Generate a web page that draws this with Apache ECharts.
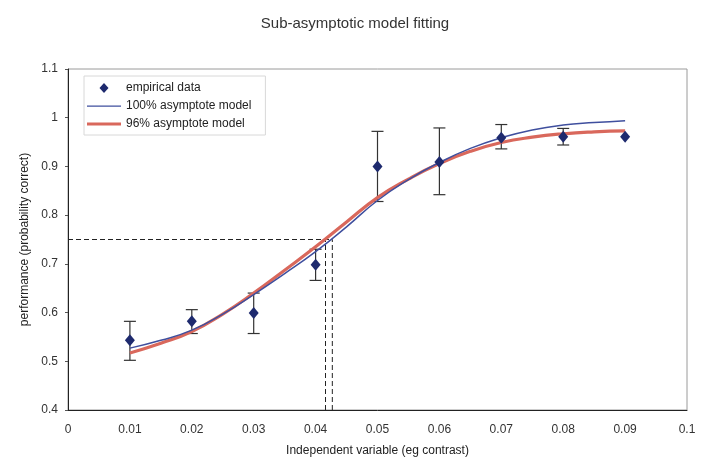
<!DOCTYPE html>
<html>
<head>
<meta charset="utf-8">
<script src="https://cdn.jsdelivr.net/npm/echarts@6/dist/echarts.min.js"></script>
<style>html,body{margin:0;padding:0;background:#fff}#c{width:710px;height:472px}</style>
</head>
<body>
<div id="c"></div>
<script>
// ---- data ----
var dataX = [0.01, 0.02, 0.03, 0.04, 0.05, 0.06, 0.07, 0.08, 0.09];
var dataY = [0.543, 0.582, 0.599, 0.698, 0.900, 0.909, 0.959, 0.961, 0.961];
var errUpper = [0.582, 0.606, 0.640, 0.730, 0.972, 0.979, 0.986, 0.978, null];
var errLower = [0.502, 0.557, 0.557, 0.666, 0.828, 0.842, 0.936, 0.944, null];

var modelX = [0.01, 0.015, 0.02, 0.025, 0.03, 0.035, 0.04, 0.045, 0.05, 0.055, 0.06, 0.065, 0.07, 0.075, 0.08, 0.085, 0.09];
var model100 = [0.527, 0.543, 0.564, 0.597, 0.637, 0.680, 0.725, 0.776, 0.830, 0.873, 0.908, 0.937, 0.959, 0.975, 0.985, 0.990, 0.994];
var model96  = [0.517, 0.537, 0.561, 0.597, 0.640, 0.687, 0.735, 0.786, 0.836, 0.874, 0.906, 0.931, 0.949, 0.960, 0.967, 0.971, 0.973];

var threshold = 0.75;
var thresholdX = [0.0416, 0.0427];

var xTicks = {min: 0, max: 0.1, step: 0.01};
var yTicks = {min: 0.4, max: 1.1, step: 0.1};

// ---- build ----
function pairs(xs, ys) { return xs.map(function (x, i) { return [x, ys[i]]; }); }
var errData = [];
dataX.forEach(function (x, i) {
  if (errUpper[i] != null) errData.push([x, errLower[i], errUpper[i]]);
});

var dashStyle = {color: '#222', width: 1, type: [5, 3]};
var font = '"Liberation Sans", Arial, sans-serif';

// legend icons in a 34x12 box (moveTo points fix the bounding box)
var iconDiamond = 'path://M0,0 M34,12 M17,1 L21.5,6 L17,11 L12.5,6 Z';
var iconThin = 'path://M0,0 M34,12 M0,5.4 L34,5.4 L34,6.8 L0,6.8 Z';
var iconThick = 'path://M0,0 M34,12 M0,4.5 L34,4.5 L34,7.5 L0,7.5 Z';

var chart = echarts.init(document.getElementById('c'), null, {renderer: 'canvas'});
chart.setOption({
  backgroundColor: '#fff',
  animation: false,
  title: {
    text: 'Sub-asymptotic model fitting',
    left: 'center',
    top: 11,
    textStyle: {fontFamily: font, fontSize: 15, fontWeight: 'normal', color: '#333'}
  },
  legend: {
    orient: 'vertical',
    left: 84,
    top: 76,
    padding: [6, 14, 5, 3],
    itemGap: 6,
    itemWidth: 34,
    itemHeight: 12,
    borderColor: '#d8d8d8',
    borderWidth: 1,
    textStyle: {fontFamily: font, fontSize: 12, color: '#222'},
    data: [
      {name: 'empirical data', icon: iconDiamond, itemStyle: {color: '#1e2a6e'}},
      {name: '100% asymptote model', icon: iconThin, itemStyle: {color: '#3f4f9e'}},
      {name: '96% asymptote model', icon: iconThick, itemStyle: {color: '#d9685c'}}
    ]
  },
  grid: {left: 68, right: 23, top: 69, bottom: 62, show: true, borderColor: '#9a9a9a', borderWidth: 1},
  xAxis: {
    type: 'value',
    min: xTicks.min, max: xTicks.max, interval: xTicks.step,
    name: 'Independent variable (eg contrast)',
    nameLocation: 'middle',
    nameGap: 35,
    nameTextStyle: {fontFamily: font, fontSize: 12, color: '#222'},
    axisLine: {show: true, lineStyle: {color: '#222', width: 1}},
    axisTick: {show: false},
    splitLine: {show: false},
    axisLabel: {
      margin: 14, fontFamily: font, fontSize: 12, color: '#333',
      formatter: function (v) { return String(+v.toFixed(2)); }
    }
  },
  yAxis: {
    type: 'value',
    min: yTicks.min, max: yTicks.max, interval: yTicks.step,
    name: 'performance (probability correct)',
    nameLocation: 'middle',
    nameGap: 32,
    nameTextStyle: {fontFamily: font, fontSize: 12, color: '#222'},
    axisLine: {show: true, lineStyle: {color: '#222', width: 1}},
    axisTick: {show: true, length: 3, inside: false, lineStyle: {color: '#555'}},
    splitLine: {show: false},
    axisLabel: {
      margin: 10, fontFamily: font, fontSize: 12, color: '#333',
      formatter: function (v) { return String(+v.toFixed(1)); }
    }
  },
  series: [
    {
      type: 'line', name: 'threshold-h', silent: true, symbol: 'none',
      data: [[xTicks.min, threshold], [thresholdX[1], threshold]],
      lineStyle: dashStyle, z: 1
    },
    {
      type: 'line', name: 'threshold-v1', silent: true, symbol: 'none',
      data: [[thresholdX[0], yTicks.min], [thresholdX[0], threshold]],
      lineStyle: dashStyle, z: 1
    },
    {
      type: 'line', name: 'threshold-v2', silent: true, symbol: 'none',
      data: [[thresholdX[1], yTicks.min], [thresholdX[1], threshold]],
      lineStyle: dashStyle, z: 1
    },
    {
      type: 'custom', name: 'error bars', silent: true, z: 2,
      data: errData,
      renderItem: function (params, api) {
        var x = api.value(0);
        var lo = api.coord([x, api.value(1)]);
        var hi = api.coord([x, api.value(2)]);
        var w = 6;
        var st = {stroke: '#333', lineWidth: 1.2};
        return {
          type: 'group',
          children: [
            {type: 'line', shape: {x1: lo[0], y1: lo[1], x2: hi[0], y2: hi[1]}, style: st},
            {type: 'line', shape: {x1: lo[0] - w, y1: lo[1], x2: lo[0] + w, y2: lo[1]}, style: st},
            {type: 'line', shape: {x1: hi[0] - w, y1: hi[1], x2: hi[0] + w, y2: hi[1]}, style: st}
          ]
        };
      }
    },
    {
      type: 'line', name: '96% asymptote model', smooth: true, showSymbol: false, symbol: 'none',
      data: pairs(modelX, model96),
      lineStyle: {color: '#d9685c', width: 3.2}, itemStyle: {color: '#d9685c'}, z: 3
    },
    {
      type: 'line', name: '100% asymptote model', smooth: true, showSymbol: false, symbol: 'none',
      data: pairs(modelX, model100),
      lineStyle: {color: '#3f4f9e', width: 1.5}, itemStyle: {color: '#3f4f9e'}, z: 4
    },
    {
      type: 'scatter', name: 'empirical data', symbol: 'diamond', symbolSize: [10, 12],
      data: pairs(dataX, dataY),
      itemStyle: {color: '#1e2a6e', opacity: 1}, z: 5
    }
  ]
});
</script>
</body>
</html>
